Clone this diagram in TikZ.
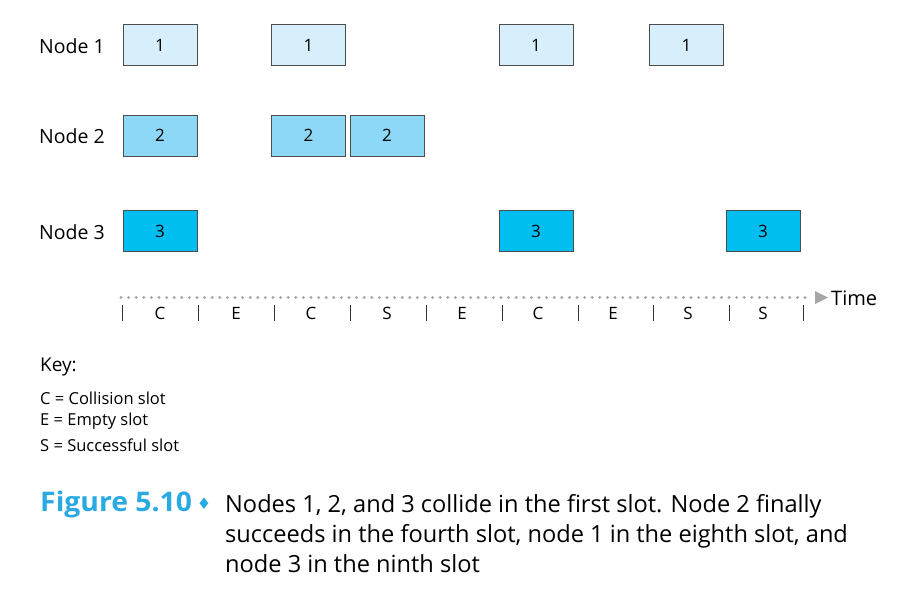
\documentclass[tikz,border=0pt]{standalone}
\usepackage{fontspec}
\setmainfont{Open Sans}
\newfontfamily\capfont{Open Sans}
\newfontfamily\figfont[FakeStretch=1.05]{Open Sans}
\newfontfamily\symfont{DejaVu Sans}
\usetikzlibrary{arrows.meta}

\definecolor{slotone}{HTML}{D6EFFA}
\definecolor{slottwo}{HTML}{8DD8F6}
\definecolor{slotthree}{HTML}{00BEF0}
\definecolor{figblue}{HTML}{2AAAE2}

\tikzset{
  frame/.style={draw=black!70,line width=0.8pt,minimum width=74pt,minimum height=41pt,inner sep=0pt,font=\fontsize{17}{20}\selectfont},
  lbl/.style={anchor=east,inner sep=0pt,font=\fontsize{19.5}{23}\selectfont},
  keyline/.style={anchor=west,inner sep=0pt,font=\fontsize{16.5}{20}\selectfont},
}

\begin{document}
\begin{tikzpicture}[x=1pt,y=-1pt]
\useasboundingbox (0,0) rectangle (921,603);

\draw (105,46) node(LONE)[lbl]{Node 1};
\draw (105,136) node(LTWO)[lbl]{Node 2};
\draw (105,232) node(LTHREE)[lbl]{Node 3};

% node 1
\draw (160,45) node(AONE)[frame,fill=slotone]{1};
\draw (308.5,45) node(ATHREE)[frame,fill=slotone]{1};
\draw (536,45) node(ASIX)[frame,fill=slotone]{1};
\draw (686.5,45) node(AEIGHT)[frame,fill=slotone]{1};

% node 2
\draw (160,135.5) node(BONE)[frame,fill=slottwo]{2};
\draw (308.5,135.5) node(BTHREE)[frame,fill=slottwo]{2};
\draw (387,135.5) node(BFOUR)[frame,fill=slottwo]{2};

% node 3
\draw (160,231) node(CONE)[frame,fill=slotthree]{3};
\draw (536,231) node(CSIX)[frame,fill=slotthree]{3};
\draw (763,231) node(CNINE)[frame,fill=slotthree]{3};

% time axis
\coordinate (START) at (121,297.5);
\draw (831,298) node(TIME)[anchor=west,inner sep=0pt,font=\fontsize{20}{23}\selectfont]{Time};
\draw[black!35,line width=3.2pt,line cap=round,dash pattern=on 0pt off 7.6pt] (START) -- (812,297.5);
\fill[black!35] (815,291) -- (828,297.5) -- (815,304) -- cycle;

\foreach \x in {122,198,274,350,426,502,578,653,729,803}
  \draw[black!80,line width=0.8pt] (\x,305) -- (\x,321);
\foreach \x/\s in {160/C,236/E,311/C,387/S,462/E,538/C,613/E,688/S,763/S}
  \draw (\x,313) node[font=\fontsize{17}{20}\selectfont]{\s};

% key
\draw (40,367) node(KEY)[keyline,font=\fontsize{19}{22}\selectfont]{Key:};
\draw (40,398) node(KEYC)[keyline]{C = Collision slot};
\draw (40,421.5) node(KEYE)[keyline]{E = Empty slot};
\draw (40,445.5) node(KEYS)[keyline]{S = Successful slot};

% caption
\draw (40,504) node(FIG)[anchor=west,inner sep=0pt,font=\figfont\bfseries\fontsize{27}{30}\selectfont,text=figblue]{Figure 5.10};
\draw (204,504) node(DIAM)[inner sep=0pt,text=figblue,font=\symfont\fontsize{16}{18}\selectfont]{♦};
\draw (225,494) node(CAP)[anchor=north west,inner sep=0pt,align=left,font=\capfont\fontsize{23.6}{30}\selectfont]{Nodes 1, 2, and 3 collide in the first slot. Node 2 finally\\succeeds in the fourth slot, node 1 in the eighth slot, and\\node 3 in the ninth slot};

\end{tikzpicture}
\end{document}
